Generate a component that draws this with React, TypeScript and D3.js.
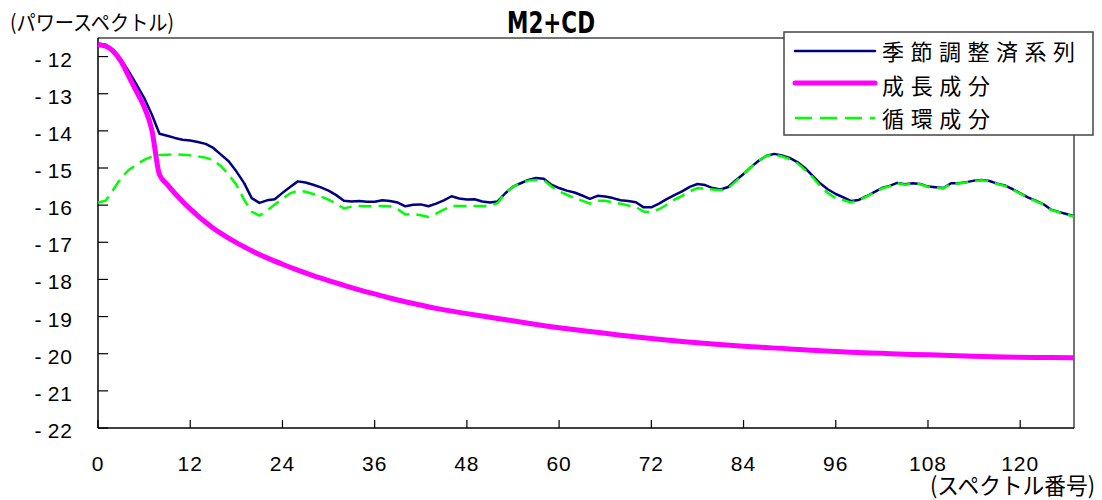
import React from 'react';
import * as d3 from 'd3';

const title = 'M2+CD';
const yLabel = '(パワースペクトル)';
const xLabel = '(スペクトル番号)';
const seriesNames = ['季節調整済系列', '成長成分', '循環成分'];

const xTicks = [0, 12, 24, 36, 48, 60, 72, 84, 96, 108, 120];
const yTicks = [-12, -13, -14, -15, -16, -17, -18, -19, -20, -21, -22];

// seasonally adjusted series, spectrum index 0..127
const adjusted = [
  -11.65, -11.68, -11.83, -12.08, -12.4, -12.75, -13.11, -13.56, -14.08, -14.13,
  -14.19, -14.24, -14.26, -14.3, -14.35, -14.46, -14.64, -14.82, -15.09, -15.4,
  -15.81, -15.94, -15.87, -15.84, -15.67, -15.51, -15.36, -15.39, -15.45, -15.52,
  -15.61, -15.73, -15.88, -15.9, -15.89, -15.91, -15.91, -15.87, -15.89, -15.93,
  -16.03, -15.99, -15.98, -16.03, -15.96, -15.87, -15.76, -15.82, -15.85, -15.84,
  -15.9, -15.93, -15.9, -15.68, -15.5, -15.41, -15.32, -15.27, -15.29, -15.45,
  -15.54, -15.61, -15.66, -15.74, -15.83, -15.75, -15.77, -15.81, -15.87, -15.89,
  -15.92, -16.06, -16.06, -15.96, -15.84, -15.73, -15.63, -15.51, -15.43, -15.46,
  -15.54, -15.58, -15.51, -15.33, -15.16, -14.97, -14.8, -14.67, -14.62, -14.66,
  -14.73, -14.84, -15.0, -15.21, -15.42, -15.58, -15.7, -15.79, -15.89, -15.86,
  -15.76, -15.65, -15.54, -15.48, -15.4, -15.44, -15.41, -15.43, -15.5, -15.52,
  -15.54, -15.41, -15.41, -15.38, -15.34, -15.32, -15.35, -15.42, -15.47, -15.57,
  -15.68, -15.79, -15.88, -15.97, -16.12, -16.18, -16.24, -16.3,
];

// cyclical component, spectrum index 0..127
const cyclical = [
  -15.93, -15.88, -15.58, -15.27, -15.05, -14.91, -14.78, -14.69, -14.65, -14.64,
  -14.63, -14.64, -14.66, -14.69, -14.72, -14.79, -14.95, -15.18, -15.45, -15.85,
  -16.18, -16.28, -16.15, -15.98, -15.83, -15.68, -15.61, -15.64, -15.7, -15.77,
  -15.85, -15.96, -16.09, -16.04, -16.02, -16.03, -16.03, -16.02, -16.03, -16.11,
  -16.25, -16.24, -16.27, -16.32, -16.23, -16.12, -16.02, -16.02, -16.02, -16.02,
  -16.02, -16.02, -15.94, -15.68, -15.5, -15.42, -15.34, -15.32, -15.33, -15.5,
  -15.63, -15.72, -15.81, -15.88, -15.96, -15.88, -15.88, -15.93, -15.96, -16.01,
  -16.05, -16.17, -16.19, -16.11, -15.99, -15.85, -15.75, -15.63, -15.54, -15.56,
  -15.58, -15.6, -15.54, -15.36, -15.16, -14.97, -14.8, -14.67, -14.64, -14.69,
  -14.76, -14.87, -15.05, -15.25, -15.49, -15.68, -15.81, -15.87, -15.93, -15.87,
  -15.77, -15.66, -15.55, -15.49, -15.41, -15.45, -15.42, -15.44, -15.51, -15.53,
  -15.55, -15.42, -15.42, -15.39, -15.35, -15.33, -15.36, -15.43, -15.48, -15.58,
  -15.69, -15.8, -15.89, -15.98, -16.13, -16.19, -16.25, -16.31,
];

// growth component (smooth), read at these indexes
const growthIdx = [
  0, 1, 2, 3, 4, 5, 6, 7, 8, 9, 10, 11, 12, 13, 14, 15, 16, 17, 18, 19, 20,
  22, 24, 26, 28, 30, 32, 34, 36, 38, 40, 42, 44, 48, 52, 56, 60, 64, 68, 72,
  76, 80, 84, 90, 94, 98, 102, 106, 110, 114, 118, 122, 127,
];
const growthVal = [
  -11.68, -11.72, -11.86, -12.13, -12.53, -12.94, -13.35, -13.97, -15.18, -15.44,
  -15.68, -15.9, -16.1, -16.29, -16.46, -16.62, -16.76, -16.89, -17.01, -17.12,
  -17.23, -17.42, -17.59, -17.75, -17.9, -18.03, -18.16, -18.28, -18.39, -18.5,
  -18.6, -18.69, -18.78, -18.92, -19.05, -19.18, -19.3, -19.4, -19.5, -19.59,
  -19.67, -19.74, -19.8, -19.87, -19.92, -19.96, -19.99, -20.02, -20.04, -20.07,
  -20.09, -20.1, -20.11,
];
// ————————————————————

const W = 1102;
const H = 500;
const plot = { left: 98, right: 1074, top: 38, bottom: 428 };
const numFont = '"Liberation Sans", Arial, sans-serif';
const jpFont = '"Noto Sans CJK JP", sans-serif';

export default function App() {
  const x = d3.scaleLinear().domain([0, 127]).range([plot.left, plot.right]);
  const y = d3.scaleLinear().domain([-22, -11.5]).range([plot.bottom, plot.top]);

  const line = d3.line<number>()
    .x((_, i) => x(i))
    .y(d => y(d));

  const growthLine = d3.line<number>()
    .x((_, i) => x(growthIdx[i]))
    .y(d => y(d))
    .curve(d3.curveMonotoneX);

  const legendRows = [
    { name: seriesNames[0], color: '#000080', width: 2.5, dash: undefined, ty: 60, tw: 193 },
    { name: seriesNames[1], color: '#FF00FF', width: 5, dash: undefined, ty: 94, tw: 108 },
    { name: seriesNames[2], color: '#00FF00', width: 2.5, dash: '17 8', ty: 127, tw: 108 },
  ];
  const lineY = [51, 83, 118];

  return (
    <svg width={W} height={H} style={{ position: 'absolute', left: 0, top: 0, background: '#fff' }}>
      {/* frame */}
      <line x1={plot.left} x2={plot.right} y1={plot.top} y2={plot.top} stroke="#444" strokeWidth={1.5} />
      <line x1={plot.right} x2={plot.right} y1={plot.top} y2={plot.bottom} stroke="#444" strokeWidth={1.5} />
      <line x1={plot.left} x2={plot.left} y1={plot.top} y2={plot.bottom} stroke="#000" strokeWidth={1.5} />
      <line x1={plot.left} x2={plot.right} y1={plot.bottom} y2={plot.bottom} stroke="#000" strokeWidth={1.5} />

      {/* y ticks */}
      {yTicks.map(t => (
        <g key={t}>
          <line x1={plot.left} x2={plot.left + 10} y1={y(t)} y2={y(t)} stroke="#000" strokeWidth={1.2} />
          <text x={38} y={y(t) + 10} textAnchor="middle" fontFamily={numFont} fontSize={21}>-</text>
          <text x={73} y={y(t) + 10} textAnchor="end" fontFamily={numFont} fontSize={21} letterSpacing={1}>
            {Math.abs(t)}
          </text>
        </g>
      ))}

      {/* x ticks */}
      {xTicks.map(t => (
        <g key={t}>
          <line x1={x(t)} x2={x(t)} y1={plot.bottom} y2={plot.bottom - 8} stroke="#000" strokeWidth={1.2} />
          <text x={x(t)} y={471} textAnchor="middle" fontFamily={numFont} fontSize={21} letterSpacing={1}>
            {t}
          </text>
        </g>
      ))}

      {/* series */}
      <path d={line(adjusted) || ''} fill="none" stroke="#000080" strokeWidth={2.5} strokeLinejoin="round" />
      <path d={line(cyclical) || ''} fill="none" stroke="#00FF00" strokeWidth={2.5} strokeDasharray="13 7" />
      <path d={growthLine(growthVal) || ''} fill="none" stroke="#FF00FF" strokeWidth={5} strokeLinejoin="round" />

      {/* titles */}
      <text x={507} y={33} fontFamily={'"Liberation Sans Narrow", "DejaVu Sans Condensed", sans-serif'}
        fontWeight="bold" fontSize={30} textLength={88} lengthAdjust="spacingAndGlyphs">
        {title}
      </text>
      <text x={10} y={30} fontFamily={jpFont} fontSize={21} textLength={164} lengthAdjust="spacingAndGlyphs">
        {yLabel}
      </text>
      <text x={930} y={494} fontFamily={jpFont} fontSize={23} textLength={165} lengthAdjust="spacingAndGlyphs">
        {xLabel}
      </text>

      {/* legend */}
      <rect x={784} y={32} width={309} height={103} fill="#fff" stroke="#444" strokeWidth={1.5} />
      {legendRows.map((r, i) => (
        <g key={r.name}>
          <line x1={795} x2={875} y1={lineY[i]} y2={lineY[i]} stroke={r.color} strokeWidth={r.width}
            strokeDasharray={r.dash} strokeLinecap={r.dash ? 'butt' : 'round'} />
          <text x={882} y={r.ty} fontFamily={jpFont} fontSize={22} textLength={r.tw} lengthAdjust="spacing">
            {r.name}
          </text>
        </g>
      ))}
    </svg>
  );
}
